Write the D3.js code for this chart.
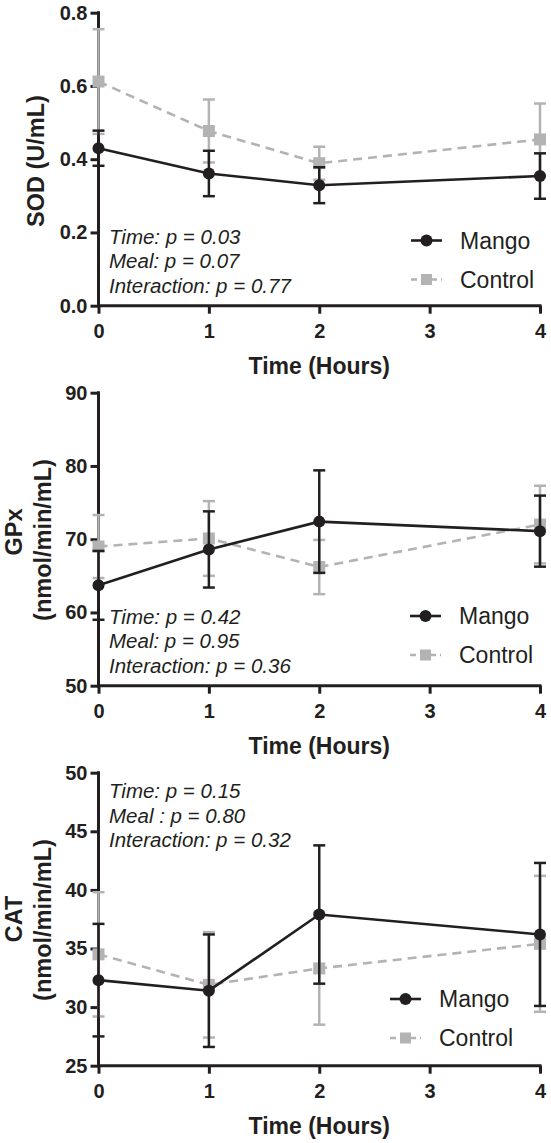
<!DOCTYPE html>
<html><head><meta charset="utf-8">
<script src="https://cdn.jsdelivr.net/npm/d3@7"></script>
<style>body{margin:0;background:#fff}svg{display:block}</style>
</head><body>
<script>
// ---- data ----
const hours = [0, 1, 2, 4];
const xTicks = [0, 1, 2, 3, 4];

const sodMango = [0.430, 0.361, 0.329, 0.354];
const sodMangoErr = [0.048, 0.062, 0.049, 0.062];
const sodControl = [0.612, 0.477, 0.389, 0.454];
const sodControlErr = [0.143, 0.086, 0.045, 0.098];
const sodTicks = [0, 0.2, 0.4, 0.6, 0.8];
const sodStats = ["Time: p = 0.03", "Meal: p = 0.07", "Interaction: p = 0.77"];

const gpxMango = [63.7, 68.6, 72.4, 71.1];
const gpxMangoErr = [4.7, 5.2, 7.0, 4.85];
const gpxControl = [69.0, 70.1, 66.2, 72.0];
const gpxControlErr = [4.3, 5.1, 3.7, 5.3];
const gpxTicks = [50, 60, 70, 80, 90];
const gpxStats = ["Time: p = 0.42", "Meal: p = 0.95", "Interaction: p = 0.36"];

const catMango = [32.3, 31.4, 37.9, 36.2];
const catMangoErr = [4.8, 4.8, 5.9, 6.1];
const catControl = [34.5, 31.9, 33.3, 35.4];
const catControlErr = [5.3, 4.5, 4.8, 5.8];
const catTicks = [25, 30, 35, 40, 45, 50];
const catStats = ["Time: p = 0.15", "Meal : p = 0.80", "Interaction: p = 0.32"];

const seriesNames = ["Mango", "Control"];
const xTitle = "Time (Hours)";

// ---- layout ----
const W = 551, H = 1143;
const FONT = "'Liberation Sans', Arial, Helvetica, sans-serif";
const DARK = "#231f20", GRAY = "#b3b3b3";
const svg = d3.select("body").append("svg").attr("width", W).attr("height", H)
  .style("font-family", FONT);

const x = d3.scaleLinear().domain([0, 4]).range([98.5, 540]);

const panels = [
  {top: 12.7, domain: [0, 0.8], ticks: sodTicks, fmt: d3.format(".1f"),
   mango: sodMango, mErr: sodMangoErr, control: sodControl, cErr: sodControlErr,
   stats: sodStats, statsY: 243.5, title: ["SOD (U/mL)"], titleX: [36], titleY: [161],
   legX: 411, legY: 240.5},
  {top: 392.7, domain: [50, 90], ticks: gpxTicks, fmt: d3.format("d"),
   mango: gpxMango, mErr: gpxMangoErr, control: gpxControl, cErr: gpxControlErr,
   stats: gpxStats, statsY: 623.5, title: ["GPx", "(nmol/min/mL)"], titleX: [14, 43], titleY: [532, 540],
   legX: 410, legY: 616},
  {top: 772.7, domain: [25, 50], ticks: catTicks, fmt: d3.format("d"),
   mango: catMango, mErr: catMangoErr, control: catControl, cErr: catControlErr,
   stats: catStats, statsY: 798, title: ["CAT", "(nmol/min/mL)"], titleX: [14, 43], titleY: [919, 920],
   legX: 390, legY: 999}
];
const PH = 293;

panels.forEach(p => {
  const g = svg.append("g");
  const y = d3.scaleLinear().domain(p.domain).range([p.top + PH, p.top]);
  const bottom = p.top + PH;

  // axes
  const yAx = g.append("g").attr("transform", `translate(${x(0)},0)`)
    .call(d3.axisLeft(y).tickValues(p.ticks).tickFormat(p.fmt).tickSize(8).tickPadding(3).tickSizeOuter(0));
  const xAx = g.append("g").attr("transform", `translate(0,${bottom})`)
    .call(d3.axisBottom(x).tickValues(xTicks).tickFormat(d3.format("d")).tickSize(8).tickPadding(10).tickSizeOuter(0));
  [yAx, xAx].forEach(a => {
    a.select(".domain").attr("stroke", DARK).attr("stroke-width", 3);
    a.selectAll(".tick line").attr("stroke", DARK).attr("stroke-width", 3);
    a.selectAll("text").attr("fill", DARK).style("font-family", FONT)
      .style("font-size", "20px").style("font-weight", "bold");
  });
  yAx.select(".domain").attr("d", `M0,${y(p.domain[1]) - 1.5}V${bottom + 1.5}`);
  xAx.select(".domain").attr("d", `M${x(0) - 1.5},0H${x(4) + 1.5}`);

  // axis titles
  g.append("text").attr("x", x(2)).attr("y", bottom + 68)
    .attr("text-anchor", "middle").attr("fill", DARK)
    .style("font-size", "23px").style("font-weight", "bold").text(xTitle);
  p.title.forEach((t, i) => {
    g.append("text").attr("transform", `translate(${p.titleX[i]},${p.titleY[i]}) rotate(-90)`)
      .attr("text-anchor", "middle").attr("dy", "0.35em").attr("fill", DARK)
      .style("font-size", "23.5px").style("font-weight", "bold").text(t);
  });

  // stats
  p.stats.forEach((s, i) => {
    g.append("text").attr("x", 109).attr("y", p.statsY + i * 24.5)
      .attr("fill", DARK).style("font-size", "20.5px").style("font-style", "italic").text(s);
  });

  const line = d3.line().x((d, i) => x(hours[i])).y(d => y(d));

  function drawSeries(vals, errs, color, dashed, marker) {
    const sg = g.append("g");
    vals.forEach((v, i) => {
      const cx = x(hours[i]);
      const hi = y(v + errs[i]), lo = y(v - errs[i]);
      sg.append("line").attr("x1", cx).attr("x2", cx).attr("y1", hi).attr("y2", lo)
        .attr("stroke", color).attr("stroke-width", 2.5);
      [hi, lo].forEach(yy => sg.append("line").attr("x1", cx - 6).attr("x2", cx + 6)
        .attr("y1", yy).attr("y2", yy).attr("stroke", color).attr("stroke-width", 2.5));
    });
    sg.append("path").datum(vals).attr("d", line).attr("fill", "none")
      .attr("stroke", color).attr("stroke-width", 2.6)
      .attr("stroke-dasharray", dashed ? "9,6" : null);
    vals.forEach((v, i) => {
      const cx = x(hours[i]), cy = y(v);
      if (marker === "circle") sg.append("circle").attr("cx", cx).attr("cy", cy).attr("r", 6).attr("fill", color);
      else sg.append("rect").attr("x", cx - 6).attr("y", cy - 6).attr("width", 12).attr("height", 12).attr("fill", color);
    });
  }
  drawSeries(p.control, p.cErr, GRAY, true, "square");
  drawSeries(p.mango, p.mErr, DARK, false, "circle");

  // legend
  const leg = g.append("g");
  [0, 1].forEach(k => {
    const ly = p.legY + k * 39;
    const c = k === 0 ? DARK : GRAY;
    leg.append("line").attr("x1", p.legX).attr("x2", p.legX + 31).attr("y1", ly).attr("y2", ly)
      .attr("stroke", c).attr("stroke-width", 2.6).attr("stroke-dasharray", k === 1 ? "6,4" : null);
    if (k === 0) leg.append("circle").attr("cx", p.legX + 15.5).attr("cy", ly).attr("r", 6).attr("fill", c);
    else leg.append("rect").attr("x", p.legX + 10).attr("y", ly - 5.5).attr("width", 11).attr("height", 11).attr("fill", c);
    leg.append("text").attr("x", p.legX + 49).attr("y", ly).attr("dy", "0.36em")
      .attr("fill", DARK).style("font-size", "23px").text(seriesNames[k]);
  });
});
</script>
</body></html>
